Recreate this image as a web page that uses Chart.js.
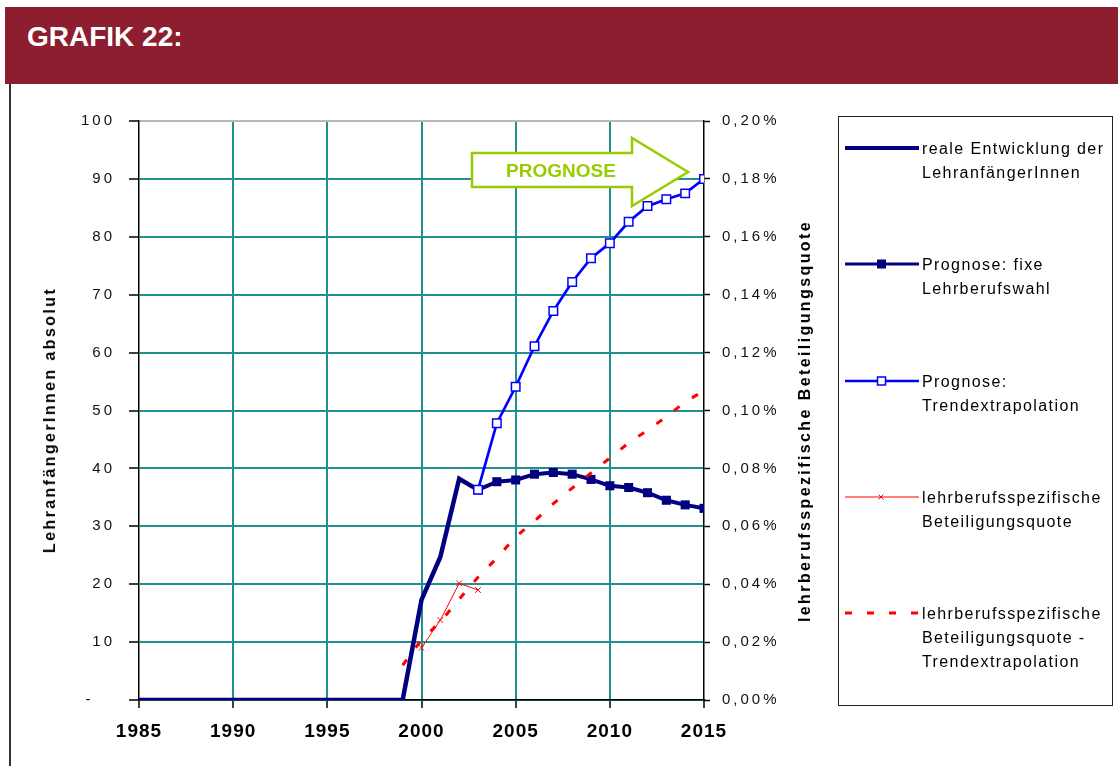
<!DOCTYPE html>
<html>
<head>
<meta charset="utf-8">
<script src="https://cdn.jsdelivr.net/npm/chart.js@4.4.1/dist/chart.umd.min.js"></script>
<style>
  html, body { margin: 0; padding: 0; background: #fff; width: 1118px; height: 766px; overflow: hidden; font-family: "Liberation Sans", Arial, sans-serif; }
  #header { position: absolute; left: 5px; top: 7px; width: 1113px; height: 77px; background: #8C1E2F; }
  #header span { position: absolute; left: 22px; top: 16px; font-size: 28px; line-height: 28px; font-weight: bold; color: #fff; }
  #leftBorder { position: absolute; left: 9px; top: 84px; width: 2px; height: 682px; background: #333; }
  #chartWrap { position: absolute; left: 0; top: 84px; width: 830px; height: 682px; }
  .axTitle { position: absolute; font-size: 16px; font-weight: bold; letter-spacing: 2.4px; white-space: nowrap; color: #000; transform: translate(-50%, -50%) rotate(-90deg); }
  #legend { position: absolute; left: 838px; top: 116px; width: 273px; height: 588px; border: 1.5px solid #222; background: #fff; }
  .item { position: absolute; left: 0; width: 273px; }
  .item .txt { position: absolute; left: 83px; top: 0; font-size: 16px; line-height: 24px; letter-spacing: 1.4px; color: #000; white-space: nowrap; }
  .item svg { position: absolute; left: 0; top: 0; }
  #arrow { position: absolute; left: 0; top: 0; }
</style>
</head>
<body>
<div id="header"><span>GRAFIK 22:</span></div>
<div id="leftBorder"></div>
<div id="chartWrap"><canvas id="c" width="830" height="682"></canvas></div>
<div class="axTitle" style="left:50px; top:420px;">LehranfängerInnen absolut</div>
<div class="axTitle" style="left:805px; top:421px;">lehrberufsspezifische Beteiligungsquote</div>

<svg id="arrow" width="1118" height="766" style="pointer-events:none">
  <polygon points="472,153 632,153 632,138 688,172 632,206 632,187 472,187" fill="#fff" stroke="#99CC00" stroke-width="2.5"/>
  <text x="561" y="177" text-anchor="middle" font-family="Liberation Sans, Arial, sans-serif" font-weight="bold" font-size="19" fill="#99CC00">PROGNOSE</text>
</svg>

<div id="legend">
  <div class="item" style="top:20px">
    <svg width="84" height="24"><line x1="6" y1="11" x2="80" y2="11" stroke="#000080" stroke-width="4"/></svg>
    <div class="txt">reale Entwicklung der<br>LehranfängerInnen</div>
  </div>
  <div class="item" style="top:136px">
    <svg width="84" height="24"><line x1="6" y1="11" x2="80" y2="11" stroke="#000080" stroke-width="3"/><rect x="38" y="6.5" width="9" height="9" fill="#000080"/></svg>
    <div class="txt">Prognose: fixe<br>Lehrberufswahl</div>
  </div>
  <div class="item" style="top:253px">
    <svg width="84" height="24"><line x1="6" y1="11" x2="80" y2="11" stroke="#0000FF" stroke-width="2.5"/><rect x="38.5" y="7" width="8" height="8" fill="#fff" stroke="#0000FF" stroke-width="1.5"/></svg>
    <div class="txt">Prognose:<br>Trendextrapolation</div>
  </div>
  <div class="item" style="top:369px">
    <svg width="84" height="24"><line x1="6" y1="11" x2="80" y2="11" stroke="#FF0000" stroke-width="1.2"/><path d="M39.5,8.5 L44.5,13.5 M44.5,8.5 L39.5,13.5" stroke="#FF0000" stroke-width="1"/></svg>
    <div class="txt">lehrberufsspezifische<br>Beteiligungsquote</div>
  </div>
  <div class="item" style="top:485px">
    <svg width="84" height="24"><line x1="6" y1="11" x2="80" y2="11" stroke="#FF0000" stroke-width="3" stroke-dasharray="7 15"/></svg>
    <div class="txt">lehrberufsspezifische<br>Beteiligungsquote -<br>Trendextrapolation</div>
  </div>
</div>

<script>
// ---- data ----
const xTickValues = [1985, 1990, 1995, 2000, 2005, 2010, 2015];
const yTickValues = [0, 10, 20, 30, 40, 50, 60, 70, 80, 90, 100];
const y1TickValues = [0, 0.02, 0.04, 0.06, 0.08, 0.10, 0.12, 0.14, 0.16, 0.18, 0.20];

const realYears = [1985, 1986, 1987, 1988, 1989, 1990, 1991, 1992, 1993, 1994, 1995, 1996, 1997, 1998, 1999, 2000, 2001, 2002, 2003];
const realValues = [0, 0, 0, 0, 0, 0, 0, 0, 0, 0, 0, 0, 0, 0, 0, 17.3, 24.7, 38.2, 36.3];

const fixeYears = [2003, 2004, 2005, 2006, 2007, 2008, 2009, 2010, 2011, 2012, 2013, 2014, 2015];
const fixeValues = [36.3, 37.7, 38.0, 39.0, 39.3, 39.0, 38.1, 37.0, 36.7, 35.8, 34.5, 33.7, 33.1];

const trendYears = [2003, 2004, 2005, 2006, 2007, 2008, 2009, 2010, 2011, 2012, 2013, 2014, 2015];
const trendValues = [36.3, 47.8, 54.1, 61.1, 67.2, 72.2, 76.3, 78.9, 82.6, 85.3, 86.5, 87.5, 90.0];

const quoteYears = [2000, 2001, 2002, 2003];
const quoteValues = [0.018, 0.0276, 0.0403, 0.038];

const quoteTrendYears = [1999, 2000, 2001, 2002, 2003, 2004, 2005, 2006, 2007, 2008, 2009, 2010, 2011, 2012, 2013, 2014, 2015];
const quoteTrendValues = [0.012, 0.0208, 0.027, 0.0348, 0.0424, 0.049, 0.0564, 0.0618, 0.0678, 0.0732, 0.0784, 0.0836, 0.0888, 0.0932, 0.0978, 0.103, 0.1068];

const labelsLegend = [
  'reale Entwicklung der LehranfängerInnen',
  'Prognose: fixe Lehrberufswahl',
  'Prognose: Trendextrapolation',
  'lehrberufsspezifische Beteiligungsquote',
  'lehrberufsspezifische Beteiligungsquote - Trendextrapolation'
];

const pts = (xs, ys) => xs.map((x, i) => ({ x: x, y: ys[i] }));

const TEAL = '#1F8F8F';
const labelSpacing = { x: '1px', y: '3px', y1: '3px' };

const spacingPlugin = {
  id: 'spacing',
  beforeDraw(chart) {
    Object.values(chart.scales).forEach(s => {
      if (s._spPatched) return;
      const orig = s.drawLabels;
      const sp = labelSpacing[s.id] || '0px';
      s.drawLabels = function (ca) {
        const ctx = this.ctx;
        ctx.save();
        try { ctx.letterSpacing = sp; } catch (e) {}
        orig.call(this, ca);
        ctx.restore();
      };
      s._spPatched = true;
    });
  }
};

new Chart(document.getElementById('c'), {
  type: 'line',
  data: {
    datasets: [
      { label: labelsLegend[4], data: pts(quoteTrendYears, quoteTrendValues), yAxisID: 'y1', order: 0,
        borderColor: '#FF0000', borderWidth: 3, borderDash: [7, 15], pointRadius: 0, fill: false, tension: 0 },
      { label: labelsLegend[3], data: pts(quoteYears, quoteValues), yAxisID: 'y1', order: 1,
        borderColor: '#FF0000', borderWidth: 1, pointStyle: 'crossRot', pointRadius: 4, pointBorderWidth: 1,
        pointBorderColor: '#FF0000', fill: false, tension: 0 },
      { label: labelsLegend[2], data: pts(trendYears, trendValues), yAxisID: 'y', order: 2,
        borderColor: '#0000FF', borderWidth: 2.7, pointStyle: 'rect', pointRadius: 6, pointBorderWidth: 1.5,
        pointBackgroundColor: '#FFFFFF', pointBorderColor: '#0000FF', fill: false, tension: 0 },
      { label: labelsLegend[1], data: pts(fixeYears, fixeValues), yAxisID: 'y', order: 3,
        borderColor: '#000080', borderWidth: 4, pointStyle: 'rect', pointRadius: 6.4, pointBorderWidth: 0,
        pointBackgroundColor: '#000080', pointBorderColor: '#000080', fill: false, tension: 0 },
      { label: labelsLegend[0], data: pts(realYears, realValues), yAxisID: 'y', order: 4,
        borderColor: '#000080', borderWidth: 4.5, pointRadius: 0, fill: false, tension: 0 }
    ]
  },
  options: {
    responsive: false,
    animation: false,
    events: [],
    layout: { padding: { top: 37, left: 0, right: 0, bottom: 0 } },
    plugins: { legend: { display: false }, tooltip: { enabled: false }, title: { display: false } },
    scales: {
      x: {
        type: 'linear', min: 1985, max: 2015,
        afterBuildTicks: (s) => { s.ticks = xTickValues.map(v => ({ value: v })); },
        afterFit: (s) => { s.height = 66; },
        ticks: { callback: (v) => String(v), color: '#000', padding: 12, maxRotation: 0,
                 font: { family: 'Liberation Sans', size: 19, weight: 'bold' } },
        grid: { color: (c) => (c.tick && (c.tick.value === 1985 || c.tick.value === 2015)) ? 'rgba(0,0,0,0)' : TEAL,
                lineWidth: 2, tickLength: 8, tickColor: '#000', tickWidth: 1.5 },
        border: { color: '#000', width: 1.5 }
      },
      y: {
        position: 'left', min: 0, max: 100,
        afterBuildTicks: (s) => { s.ticks = yTickValues.map(v => ({ value: v })); },
        afterFit: (s) => { s.width = 139; },
        ticks: { callback: (v) => v === 0 ? '-   ' : String(v), color: '#111', padding: 14,
                 font: { family: 'Liberation Sans', size: 15 } },
        grid: { color: (c) => (c.tick && c.tick.value === 100) ? '#B8B8B8' : TEAL,
                lineWidth: 2, tickLength: 10, tickColor: '#000', tickWidth: 1.5 },
        border: { color: '#000', width: 1.5 }
      },
      y1: {
        position: 'right', min: 0, max: 0.2,
        afterBuildTicks: (s) => { s.ticks = y1TickValues.map(v => ({ value: v })); },
        afterFit: (s) => { s.width = 126; },
        ticks: { callback: (v) => v.toFixed(2).replace('.', ',') + '%', color: '#111', padding: 12,
                 font: { family: 'Liberation Sans', size: 15 } },
        grid: { drawOnChartArea: false, tickLength: 6, tickColor: '#000', tickWidth: 1.5 },
        border: { color: '#000', width: 1.5 }
      }
    }
  },
  plugins: [spacingPlugin]
});
</script>
</body>
</html>
